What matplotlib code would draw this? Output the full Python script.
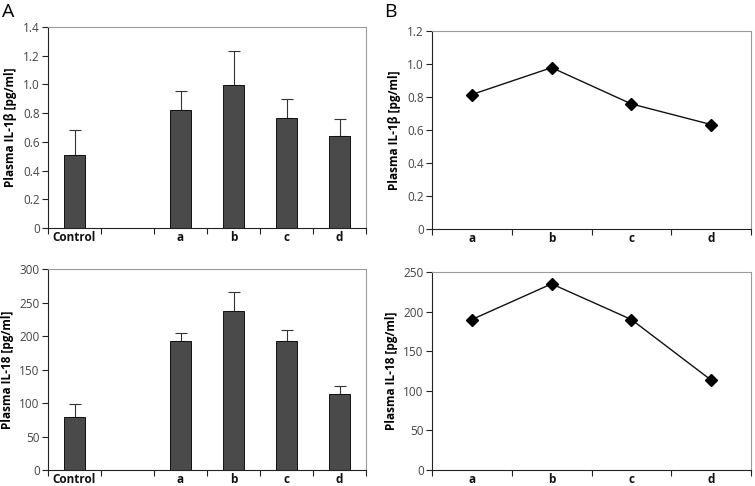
import matplotlib
matplotlib.use("Agg")
import matplotlib.pyplot as plt
from matplotlib.ticker import FixedLocator

plt.rcParams["font.family"] = ["Open Sans", "DejaVu Sans"]

# data
bar_cats = ["Control", "", "a", "b", "c", "d"]
il1b_mean = [0.505, None, 0.82, 0.993, 0.768, 0.643]
il1b_err = [0.178, None, 0.136, 0.237, 0.128, 0.113]
il18_mean = [78.5, None, 192.5, 237, 192.5, 114]
il18_err = [19.5, None, 11.5, 28.7, 16, 12]

line_cats = ["a", "b", "c", "d"]
il1b_line = [0.815, 0.978, 0.758, 0.633]
il18_line = [190, 235, 190, 113.5]

W, H = 755, 486
fig = plt.figure(figsize=(W / 100, H / 100), dpi=100)


def ax_at(l, t, r, b):
    return fig.add_axes([l / W, 1 - b / H, (r - l) / W, (b - t) / H])


def style(ax, n):
    for s in ["top", "right"]:
        ax.spines[s].set_color("#9a9a9a")
    for s in ["left", "bottom"]:
        ax.spines[s].set_color("#222222")
    for s in ax.spines.values():
        s.set_linewidth(0.8)
    ax.set_xlim(-0.5, n - 0.5)
    ax.xaxis.set_major_locator(FixedLocator([i for i in range(n)]))
    ax.xaxis.set_minor_locator(FixedLocator([i - 0.5 for i in range(n + 1)]))
    ax.tick_params(axis="x", which="major", length=0, pad=2, labelsize=8.5, labelcolor="#111111")
    ax.tick_params(axis="x", which="minor", length=4, width=0.8, color="#222222")
    ax.tick_params(axis="y", length=4, width=0.8, color="#222222", labelsize=8.5, labelcolor="#444444", pad=2)
    for lab in ax.get_xticklabels():
        lab.set_fontweight("bold")


def bar_panel(ax, means, errs, ylim, step, ylabel, fmt):
    xs = [i for i, m in enumerate(means) if m is not None]
    vals = [m for m in means if m is not None]
    es = [e for e in errs if e is not None]
    ax.bar(xs, vals, width=0.41, color="#4a4a4a", edgecolor="#111111", linewidth=0.7, zorder=2)
    ax.errorbar(xs, vals, yerr=[[0] * len(es), es], fmt="none", ecolor="#333333",
                elinewidth=0.8, capsize=4, capthick=0.8, zorder=1)
    ax.set_ylim(0, ylim)
    ticks = [round(i * step, 6) for i in range(int(round(ylim / step)) + 1)]
    ax.set_yticks(ticks)
    ax.set_yticklabels([fmt(t) for t in ticks])
    ax.set_xticks(range(len(bar_cats)))
    ax.set_xticklabels(bar_cats)
    style(ax, len(bar_cats))
    ax.set_ylabel(ylabel, fontsize=8.5, fontweight="bold", labelpad=4)


def line_panel(ax, vals, ylim, step, ylabel, fmt):
    ax.plot(range(len(line_cats)), vals, color="#111111", lw=1.0, marker="D", ms=6.5,
            mfc="black", mec="black", clip_on=False)
    ax.set_ylim(0, ylim)
    ticks = [round(i * step, 6) for i in range(int(round(ylim / step)) + 1)]
    ax.set_yticks(ticks)
    ax.set_yticklabels([fmt(t) for t in ticks])
    ax.set_xticks(range(len(line_cats)))
    ax.set_xticklabels(line_cats)
    style(ax, len(line_cats))
    ax.set_ylabel(ylabel, fontsize=8.5, fontweight="bold", labelpad=4)


f1 = lambda t: "0" if t == 0 else f"{t:.1f}"
f0 = lambda t: f"{int(t)}"

ax1 = ax_at(48, 27, 366, 228)
bar_panel(ax1, il1b_mean, il1b_err, 1.4, 0.2, "Plasma IL-1β [pg/ml]", f1)
ax2 = ax_at(48, 269, 366, 470)
bar_panel(ax2, il18_mean, il18_err, 300, 50, "Plasma IL-18 [pg/ml]", f0)
ax3 = ax_at(432, 31, 751, 229)
line_panel(ax3, il1b_line, 1.2, 0.2, "Plasma IL-1β [pg/ml]", f1)
ax4 = ax_at(432, 272, 751, 470)
line_panel(ax4, il18_line, 250, 50, "Plasma IL-18 [pg/ml]", f0)

fig.text(2 / W, 1 - 12 / H, "A", fontsize=14, va="center", ha="left")
fig.text(384 / W, 1 - 12 / H, "B", fontsize=14, va="center", ha="left")

fig.savefig("out.png", dpi=100)
